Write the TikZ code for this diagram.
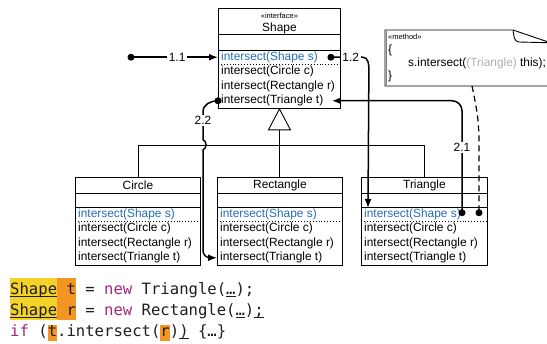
\documentclass[tikz,border=0pt]{standalone}
\usepackage{fontspec}
\setmainfont{Liberation Sans}
\newfontfamily\codefont{DejaVu Sans Mono}
\usetikzlibrary{arrows.meta}

\definecolor{methblue}{RGB}{38,110,180}
\definecolor{kwpurple}{RGB}{160,40,130}
\definecolor{hlyellow}{RGB}{245,210,40}
\definecolor{hlorange}{RGB}{243,148,35}
\definecolor{castgray}{RGB}{175,175,175}
\definecolor{codeink}{RGB}{30,30,30}

% underline drawn as a rule just below the baseline
\newcommand\ulbox[1]{\setbox0\hbox{#1}\rlap{\rule[-2pt]{\wd0}{0.9pt}}\box0\relax}

% UML class: id, left, top, width, header height, attribute height
\newcommand\umlclass[6]{%
  \node[boxframe, minimum width=#4pt, minimum height={#5pt+#6pt+58pt}, anchor=north west] (#1) at (#2,#3) {};
  \draw[boxline] ([yshift=-#5pt]#1.north west) -- ([yshift=-#5pt]#1.north east);
  \draw[boxline] ([yshift={-(#5pt+#6pt)}]#1.north west) -- ([yshift={-(#5pt+#6pt)}]#1.north east);
  \draw[boxline, dotted] ([yshift={-(#5pt+#6pt+14.5pt)}]#1.north west) -- ([yshift={-(#5pt+#6pt+14.5pt)}]#1.north east);
  \node[meth, text=methblue] (#1-s) at ([xshift=3pt, yshift={-(#5pt+#6pt+7.25pt)}]#1.north west) {intersect(Shape s)};
  \node[meth] (#1-c) at ([xshift=3pt, yshift={-(#5pt+#6pt+21.75pt)}]#1.north west) {intersect(Circle c)};
  \node[meth] (#1-r) at ([xshift=3pt, yshift={-(#5pt+#6pt+36.25pt)}]#1.north west) {intersect(Rectangle r)};
  \node[meth] (#1-t) at ([xshift=3pt, yshift={-(#5pt+#6pt+50.75pt)}]#1.north west) {intersect(Triangle t)};
}

\tikzset{
  boxframe/.style={draw, line width=0.9pt, inner sep=0pt, fill=white},
  boxline/.style={line width=0.9pt},
  meth/.style={anchor=west, inner sep=0pt, font=\fontsize{11.9}{14}\selectfont},
  classtitle/.style={inner sep=0pt, font=\fontsize{11.9}{14}\selectfont},
  stereo/.style={inner sep=0pt, font=\fontsize{7.5}{9}\selectfont},
  conn/.style={line width=1.5pt, -{Latex[length=9pt,width=7pt]}},
  lbl/.style={fill=white, inner sep=1.5pt, font=\fontsize{11.9}{14}\selectfont},
  genline/.style={line width=0.9pt},
  codeline/.style={anchor=base west, inner sep=0pt, text=codeink,
    font=\codefont\fontsize{15.6}{21}\selectfont},
  notetext/.style={anchor=west, inner sep=0pt, font=\fontsize{11.9}{14}\selectfont},
}

\begin{document}
\begin{tikzpicture}[x=1pt, y=-1pt]
\useasboundingbox (0,0) rectangle (547,344);
\clip (0,0) rectangle (547,344);

% ---------- classes ----------
\umlclass{sh}{218}{8}{122}{26}{16}
\umlclass{circ}{75}{177}{125}{16}{14}
\umlclass{rect}{217}{177}{125}{16}{14}
\umlclass{tri}{361}{177}{126}{16}{14}

\node[stereo] (sh-stereo) at ([yshift=-7.5pt]sh.north) {«interface»};
\node[classtitle] (sh-name) at ([yshift=-20pt]sh.north) {Shape};
\node[classtitle] (circ-name) at ([yshift=-8pt]circ.north) {Circle};
\node[classtitle] (rect-name) at ([yshift=-8pt]rect.north) {Rectangle};
\node[classtitle] (tri-name) at ([yshift=-8pt]tri.north) {Triangle};

% ---------- generalization ----------
\coordinate (gen-apex) at (sh.south);
\coordinate (gen-base) at ([yshift=-21pt]sh.south);
\coordinate (gen-join) at ([yshift=-16pt]gen-base);
\draw[genline] (gen-base) -- (gen-base |- rect.north);
\draw[genline] (circ.north) |- (gen-join) -| (tri.north);
\draw[genline, fill=white] (gen-apex) -- ++(-11,21) -- ++(22,0) -- cycle;

% ---------- note ----------
\coordinate (note-nw) at (385,30);
\draw[line width=0.9pt, fill=white] (note-nw) -- (513,30) -- (560,46) -- (560,86) -- (385,86) -- cycle;
\draw[line width=0.9pt] (513,30) to[out=-80,in=180] (519,42) -- (560,43);
\draw[line width=1pt, gray] (386.5,31) -- (386.5,85);
\node[stereo, anchor=west] (note-stereo) at (388,37) {«method»};
\node[notetext] (note-open) at (388,50) {\{};
\node[notetext] (note-body) at (408,63) {s.intersect(\textcolor{castgray}{(Triangle)} this);};
\node[notetext] (note-close) at (388,76) {\}};
\coordinate (note-b) at (472,86);

% ---------- call 1.1 ----------
\coordinate (s11) at ([xshift=-87pt]sh.west |- sh-s);
\draw[conn] (s11) -- (sh.west |- sh-s) node[lbl, pos=0.53] (l11) {1.1};
\fill (s11) circle (3.5pt);

% ---------- call 1.2 ----------
\coordinate (s12) at ([xshift=-10pt]sh.east |- sh-s);
\coordinate (e12) at ([xshift=7pt, yshift=-31pt]tri.north west);
\draw[conn] (s12) -- ++(32,0) node[lbl, pos=0.62] (l12) {1.2} to[out=0,in=90] ++(6,12) -- (e12);
\fill (s12) circle (3.5pt);

% ---------- call 2.1 ----------
\coordinate (s21) at ([xshift=101pt, yshift=1.5pt]tri.west |- tri-s);
\coordinate (e21) at ([xshift=-9pt]sh.east |- sh-t);
\draw[conn, rounded corners=10pt] (s21) |- (e21);
\path (s21) ++(0,-65) node[lbl] (l21) {2.1};
\fill (s21) circle (3.5pt);

% ---------- call 2.2 ----------
\coordinate (s22) at (sh.west |- sh-t);
\coordinate (e22) at (rect.west |- rect-t);
\draw[conn] (s22) to[out=180,in=90] ++(-15,11) -- ++(0,28)
  .. controls +(4,1) and +(4,-1) .. ++(0,10)
  [rounded corners=7pt] |- (e22);
\node[lbl] (l22) at ([xshift=-15pt, yshift=-20pt]s22) {2.2};
\fill (s22) circle (3.5pt);

% ---------- note anchor ----------
\coordinate (sdash) at ([xshift=118pt, yshift=1.5pt]tri.west |- tri-s);
\draw[line width=1.2pt, dash pattern=on 6pt off 4pt] (note-b) to[out=-78,in=90] ([yshift=70pt]sdash) -- (sdash);
\fill (sdash) circle (3.5pt);

% ---------- code ----------
\fill[hlyellow] (10,278) rectangle (56.96,320);
\fill[hlorange] (56.96,278) rectangle (75.74,320);
\fill[hlorange] (47.56,325) rectangle (56.96,341);
\fill[hlorange] (160.26,325) rectangle (169.65,341);

\node[codeline] (code1) at (10,295) {\ulbox{Shape} t = \textcolor{kwpurple}{new} Triangle(\ulbox{…});};
\node[codeline] (code2) at (10,316) {\ulbox{Shape} r = \textcolor{kwpurple}{new} Rectangle(\ulbox{…})\ulbox{;}};
\node[codeline] (code3) at (10,337) {\textcolor{kwpurple}{if} (t.intersect(r)\ulbox{)} \{…\}};

\end{tikzpicture}
\end{document}
